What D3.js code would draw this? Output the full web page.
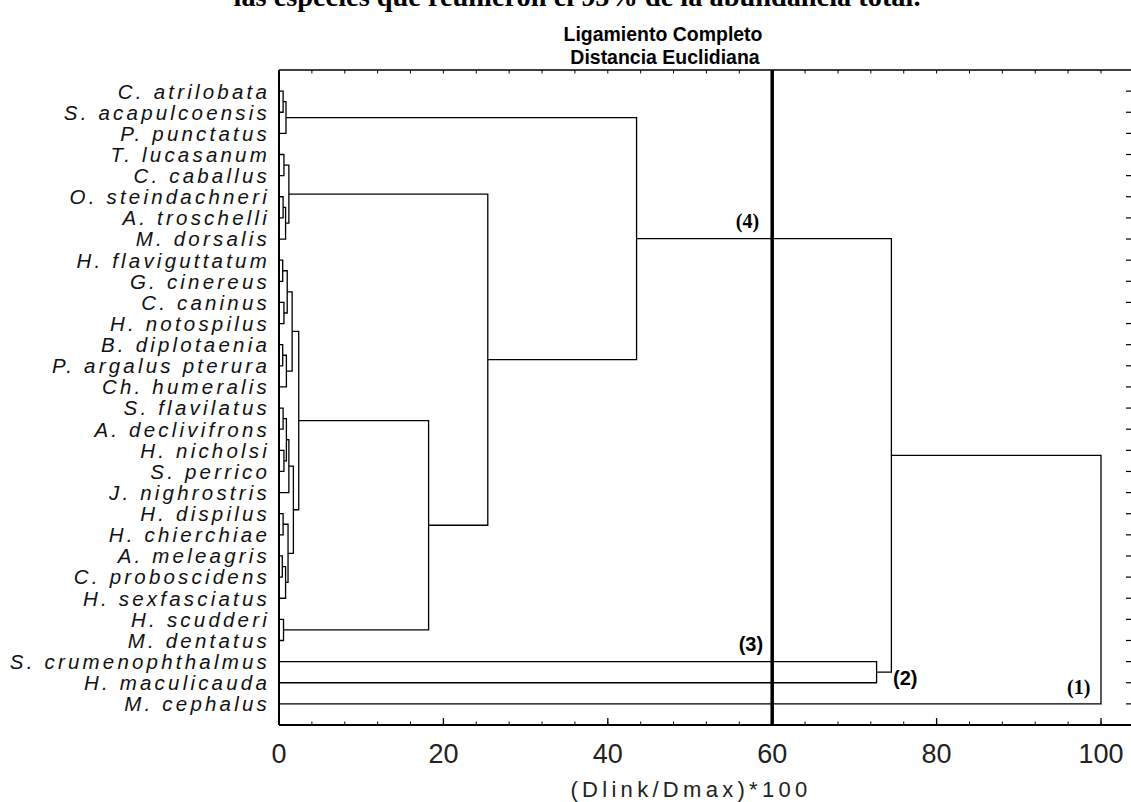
<!DOCTYPE html>
<html>
<head>
<meta charset="utf-8">
<script src="https://cdn.jsdelivr.net/npm/d3@7/dist/d3.min.js"></script>
<style>
  html, body { margin: 0; padding: 0; background: #fff; }
  svg { display: block; }
</style>
</head>
<body>
<svg id="chart" width="1131" height="802"></svg>
<script>
// ---------- data ----------
const leaves = [
  "C. atrilobata", "S. acapulcoensis", "P. punctatus", "T. lucasanum", "C. caballus",
  "O. steindachneri", "A. troschelli", "M. dorsalis", "H. flaviguttatum", "G. cinereus",
  "C. caninus", "H. notospilus", "B. diplotaenia", "P. argalus pterura", "Ch. humeralis",
  "S. flavilatus", "A. declivifrons", "H. nicholsi", "S. perrico", "J. nighrostris",
  "H. dispilus", "H. chierchiae", "A. meleagris", "C. proboscidens", "H. sexfasciatus",
  "H. scudderi", "M. dentatus", "S. crumenophthalmus", "H. maculicauda", "M. cephalus"
];
// linkage: [left id, right id, height]; ids >= leaves.length refer to earlier merges
const merges = [
  [0, 1, 0.5],   [30, 2, 0.85],
  [3, 4, 0.6],   [5, 6, 0.5],   [33, 7, 0.8],  [32, 34, 1.2],
  [8, 9, 0.45],  [10, 11, 0.6], [36, 37, 1.0], [12, 13, 0.45], [39, 14, 0.9], [38, 40, 1.6],
  [15, 16, 0.5], [17, 18, 0.6], [42, 43, 0.9], [44, 19, 1.2],
  [20, 21, 0.5], [22, 23, 0.4], [47, 24, 0.8], [46, 48, 1.1], [45, 49, 1.75], [41, 50, 2.4],
  [25, 26, 0.55],
  [51, 52, 18.2], [35, 53, 25.4], [31, 54, 43.5],
  [27, 28, 72.7], [55, 56, 74.5], [57, 29, 100]
];
const xTickLabels = [0, 20, 40, 60, 80, 100];
const cutValue = 60;
const annotationLabels = ["(4)", "(3)", "(2)", "(1)"];
const annotationValues = [58.4, 58.9, 74.7, 98.7];   // distance position
const annotationRows = [6.46, 26.5, 28.1, 28.55];    // leaf-row position
const titleLines = ["Ligamiento Completo", "Distancia Euclidiana"];
const captionText = "las especies que reunieron el 95% de la abundancia total.";
const xAxisTitle = "(Dlink/Dmax)*100";

// ---------- layout ----------
const plotL = 279, plotR = 1132, plotT = 70, plotB = 725;
const svg = d3.select("#chart");

const x = d3.scaleLinear().domain([0, 100]).range([plotL, 1101]);
const y = d3.scalePoint().domain(leaves).range([plotT, plotB]).padding(1);
const rowY = r => y(leaves[0]) + r * y.step();

// caption (cropped at top, as in the source image)
svg.append("text")
  .attr("transform", "translate(577,6) scale(1.05,1)")
  .attr("text-anchor", "middle")
  .attr("font-family", "'Liberation Serif', 'Times New Roman', serif")
  .attr("font-size", 27)
  .attr("font-weight", "bold")
  .text(captionText);

// titles (condensed bold)
svg.selectAll("text.title").data(titleLines).join("text")
  .attr("class", "title")
  .attr("transform", (d, i) => `translate(${663 + i * 2},${41 + i * 23}) scale(0.95,1)`)
  .attr("text-anchor", "middle")
  .attr("font-family", "'Liberation Sans', Arial, sans-serif")
  .attr("font-weight", "bold")
  .attr("font-size", 20.5)
  .text(d => d);

// frame
const g = svg.append("g");
g.append("line").attr("x1", plotL).attr("x2", plotR).attr("y1", plotT).attr("y2", plotT)
  .attr("stroke", "#000").attr("stroke-width", 1.5);
g.append("line").attr("x1", plotL).attr("x2", plotR).attr("y1", plotB).attr("y2", plotB)
  .attr("stroke", "#000").attr("stroke-width", 2);
g.append("line").attr("x1", plotL).attr("x2", plotL).attr("y1", plotT).attr("y2", plotB)
  .attr("stroke", "#000").attr("stroke-width", 2);
g.append("line").attr("x1", plotR).attr("x2", plotR).attr("y1", plotT).attr("y2", plotB)
  .attr("stroke", "#000").attr("stroke-width", 2);

// x ticks: minor every 4, major every 20, pointing inward on bottom and top
const minorTicks = d3.range(0, 101, 4);
g.selectAll("line.bminor").data(minorTicks).join("line")
  .attr("x1", d => x(d)).attr("x2", d => x(d))
  .attr("y1", plotB).attr("y2", plotB - 3.5)
  .attr("stroke", "#000").attr("stroke-width", 1);
g.selectAll("line.bmajor").data(xTickLabels).join("line")
  .attr("x1", d => x(d)).attr("x2", d => x(d))
  .attr("y1", plotB).attr("y2", plotB - 7)
  .attr("stroke", "#000").attr("stroke-width", 1.3);
g.selectAll("line.tminor").data(minorTicks).join("line")
  .attr("x1", d => x(d)).attr("x2", d => x(d))
  .attr("y1", plotT).attr("y2", plotT + 3.5)
  .attr("stroke", "#000").attr("stroke-width", 1);

// right axis ticks at each leaf row
g.selectAll("line.rtick").data(leaves).join("line")
  .attr("x1", plotR - 6).attr("x2", plotR)
  .attr("y1", d => y(d)).attr("y2", d => y(d))
  .attr("stroke", "#000").attr("stroke-width", 1.2);

// x tick labels
g.selectAll("text.xtl").data(xTickLabels).join("text")
  .attr("x", d => x(d)).attr("y", 763)
  .attr("text-anchor", "middle")
  .attr("font-family", "'Liberation Sans', Arial, sans-serif")
  .attr("font-size", 27)
  .attr("fill", "#222")
  .text(d => d);

// x axis title
svg.append("text")
  .attr("x", 691).attr("y", 797)
  .attr("text-anchor", "middle")
  .attr("font-family", "'Liberation Sans', Arial, sans-serif")
  .attr("font-size", 22)
  .attr("letter-spacing", "4.3px")
  .attr("fill", "#222")
  .text(xAxisTitle);

// leaf labels
g.selectAll("text.leaf").data(leaves).join("text")
  .attr("x", 270)
  .attr("y", d => y(d))
  .attr("dy", "0.36em")
  .attr("text-anchor", "end")
  .attr("font-family", "'Liberation Sans', Arial, sans-serif")
  .attr("font-style", "italic")
  .attr("font-size", 20.5)
  .attr("letter-spacing", "3.2px")
  .attr("fill", "#111")
  .text(d => d);

// dendrogram
const nodes = leaves.map(l => ({ h: 0, y: y(l) }));
const links = [];
merges.forEach(([a, b, h]) => {
  const na = nodes[a], nb = nodes[b];
  links.push({ a: na, b: nb, h });
  nodes.push({ h, y: (na.y + nb.y) / 2 });
});
g.selectAll("path.link").data(links).join("path")
  .attr("d", d => `M${x(d.a.h)},${d.a.y}H${x(d.h)}V${d.b.y}H${x(d.b.h)}`)
  .attr("fill", "none")
  .attr("stroke", "#000")
  .attr("stroke-width", 1.3);

// cut line
g.append("line")
  .attr("x1", x(cutValue)).attr("x2", x(cutValue))
  .attr("y1", plotT).attr("y2", plotB)
  .attr("stroke", "#000").attr("stroke-width", 3.5);

// annotations
const annFont = ["'Liberation Serif', serif", "'Liberation Sans', Arial, sans-serif",
                 "'Liberation Sans', Arial, sans-serif", "'Liberation Serif', serif"];
const annAnchor = ["end", "end", "start", "end"];
g.selectAll("text.ann").data(annotationLabels).join("text")
  .attr("x", (d, i) => x(annotationValues[i]))
  .attr("y", (d, i) => rowY(annotationRows[i]))
  .attr("text-anchor", (d, i) => annAnchor[i])
  .attr("font-family", (d, i) => annFont[i])
  .attr("font-weight", "bold")
  .attr("font-size", 20)
  .text(d => d);
</script>
</body>
</html>
